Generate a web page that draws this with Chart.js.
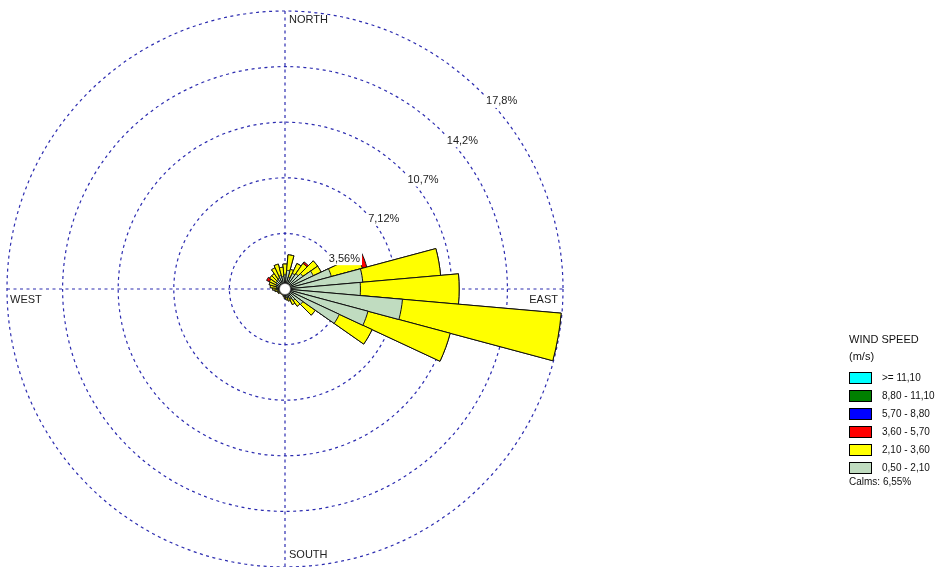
<!DOCTYPE html>
<html>
<head>
<meta charset="utf-8">
<script src="https://cdn.jsdelivr.net/npm/chart.js@4.4.1/dist/chart.umd.min.js"></script>
<style>
  html, body { margin: 0; padding: 0; background: #fff; overflow: hidden; }
  #c { position: absolute; left: 0; top: 0; }
  .lg { position: absolute; font-family: "Liberation Sans", Arial, sans-serif; color: #111; white-space: nowrap; line-height: 1; }
  .box { position: absolute; width: 21px; height: 10px; border: 1px solid #000; }
</style>
</head>
<body>
<canvas id="c" width="939" height="567"></canvas>
<div id="legend"></div>
<script>
// ---- data ----
const directions = ['0','10','20','30','40','50','60','70','80','90','100','110',
  '120','130','140','150','160','170','180','190','200','210','220','230',
  '240','250','260','270','280','290','300','310','320','330','340','350'];

const speedClasses = ['0,50 - 2,10', '2,10 - 3,60', '3,60 - 5,70', '5,70 - 8,80', '8,80 - 11,10', '>= 11,10'];
const classColors = ['#c0dcc0', '#ffff00', '#ff0000', '#0000ff', '#008000', '#00ffff'];

// frequency (%) per direction for each wind-speed class
const speed050_210 = [0.90, 1.20, 0.80, 1.10, 1.20, 1.40, 2.00, 3.07, 5.00, 4.83, 7.55, 5.50,
  3.84, 1.40, 0.90, 0.70, 0.60, 0.55, 0.50, 0.40, 0.35, 0.35, 0.30, 0.35,
  0.40, 0.40, 0.45, 0.50, 0.55, 0.60, 0.65, 0.70, 0.75, 0.80, 0.90, 0.80];
const speed210_360 = [0.70, 1.00, 0.50, 0.70, 0.80, 1.15, 0.55, 2.05, 5.00, 6.32, 10.20, 5.45,
  2.31, 0.97, 0.45, 0.40, 0.20, 0.15, 0.10, 0.08, 0.05, 0.05, 0.05, 0.05,
  0.10, 0.10, 0.20, 0.30, 0.40, 0.45, 0.45, 0.50, 0.45, 0.70, 0.75, 0.60];
const speed360_570 = [0, 0, 0, 0, 0.12, 0, 0, 0.30, 0, 0, 0, 0,
  0, 0, 0, 0, 0, 0, 0, 0, 0, 0, 0, 0,
  0, 0, 0, 0, 0, 0, 0.20, 0, 0, 0, 0, 0];
const speed570_880 = [0, 0, 0, 0, 0, 0, 0, 0, 0, 0, 0, 0,
  0, 0, 0, 0, 0, 0, 0, 0, 0, 0, 0, 0,
  0, 0, 0, 0, 0, 0, 0, 0, 0, 0, 0, 0];
const speed880_1110 = [0, 0, 0, 0, 0, 0, 0, 0, 0, 0, 0, 0,
  0, 0, 0, 0, 0, 0, 0, 0, 0, 0, 0, 0,
  0, 0, 0, 0, 0, 0, 0, 0, 0, 0, 0, 0];
const speed1110 = [0, 0, 0, 0, 0, 0, 0, 0, 0, 0, 0, 0,
  0, 0, 0, 0, 0, 0, 0, 0, 0, 0, 0, 0,
  0, 0, 0, 0, 0, 0, 0, 0, 0, 0, 0, 0];

const ringValues = [3.56, 7.12, 10.68, 14.24, 17.8];
const ringLabels = ['3,56%', '7,12%', '10,7%', '14,2%', '17,8%'];
const compassLabels = ['NORTH', 'EAST', 'SOUTH', 'WEST'];
const legendTitle = ['WIND SPEED', '(m/s)'];
const calmsText = 'Calms: 6,55%';

// ---- build stacked (cumulative) datasets ----
const series = [speed050_210, speed210_360, speed360_570, speed570_880, speed880_1110, speed1110];
let cum = directions.map(() => 0);
const datasets = [];
series.forEach((s, k) => {
  cum = cum.map((c, i) => c + s[i]);
  if (s.some(v => v > 0)) {
    datasets.push({
      label: speedClasses[k],
      data: cum.slice(),
      backgroundColor: classColors[k],
      borderColor: '#111',
      borderWidth: 1
    });
  }
});

const FONT = '"Liberation Sans", Arial, sans-serif';
const GRID = '#2c2cb0';

const rosePlugin = {
  id: 'rose',
  beforeDatasetsDraw(chart) {
    const s = chart.scales.r, ctx = chart.ctx;
    const R = s.getDistanceFromCenterForValue(ringValues[ringValues.length - 1]);
    const x = s.xCenter, y = s.yCenter;
    ctx.save();
    ctx.strokeStyle = GRID; ctx.lineWidth = 1.2; ctx.setLineDash([3, 3.5]);
    ctx.beginPath();
    ctx.moveTo(x - R, y); ctx.lineTo(x + R, y);
    ctx.moveTo(x, y - R); ctx.lineTo(x, y + R);
    ctx.stroke();
    ctx.restore();
  },
  afterDatasetsDraw(chart) {
    const s = chart.scales.r, ctx = chart.ctx;
    const xc = s.xCenter, yc = s.yCenter;
    const R = s.getDistanceFromCenterForValue(ringValues[ringValues.length - 1]);
    ctx.save();
    // calm circle
    ctx.beginPath();
    ctx.arc(xc, yc, 5.5, 0, Math.PI * 2);
    ctx.fillStyle = '#fff'; ctx.fill();
    ctx.lineWidth = 0.6; ctx.strokeStyle = '#555'; ctx.stroke();
    // ring labels at 45 degrees, on a white backdrop
    ctx.font = '11px ' + FONT;
    ctx.textBaseline = 'middle'; ctx.textAlign = 'left';
    ringValues.forEach((v, i) => {
      const r = s.getDistanceFromCenterForValue(v);
      const px = xc + r * Math.SQRT1_2 + 4.5;
      const py = yc - r * Math.SQRT1_2 + 9;
      const w = ctx.measureText(ringLabels[i]).width;
      ctx.fillStyle = '#fff';
      ctx.fillRect(px - 1, py - 6.5, w + 3, 13);
      ctx.fillStyle = '#222';
      ctx.fillText(ringLabels[i], px, py);
    });
    // compass labels
    ctx.fillStyle = '#222';
    ctx.textAlign = 'left';
    ctx.fillText(compassLabels[0], xc + 4, yc - R + 9);
    ctx.textAlign = 'right';
    ctx.fillText(compassLabels[1], xc + R - 5, yc + 11);
    ctx.textAlign = 'left';
    ctx.fillText(compassLabels[2], xc + 4, yc + R - 12);
    ctx.fillText(compassLabels[3], xc - R + 3, yc + 11);
    ctx.restore();
  }
};

new Chart(document.getElementById('c'), {
  type: 'polarArea',
  data: { labels: directions, datasets },
  options: {
    responsive: false,
    animation: false,
    events: [],
    layout: { padding: { left: 7, top: 11, right: 376, bottom: 0 } },
    plugins: { legend: { display: false }, tooltip: { enabled: false } },
    elements: { arc: { borderWidth: 1, borderColor: '#111' } },
    scales: {
      r: {
        min: 0,
        max: ringValues[ringValues.length - 1],
        startAngle: -5,
        ticks: { display: false, stepSize: ringValues[0] },
        afterBuildTicks: (sc) => { sc.ticks = [0, ...ringValues].map(v => ({ value: v })); },
        grid: { circular: true, color: GRID, lineWidth: 1.2 },
        border: { dash: [3, 3.5] },
        angleLines: { display: false },
        pointLabels: { display: false }
      }
    }
  },
  plugins: [rosePlugin]
});

// ---- legend (HTML text) ----
const lg = document.getElementById('legend');
function addText(txt, left, top, size) {
  const d = document.createElement('div');
  d.className = 'lg';
  d.style.left = left + 'px'; d.style.top = top + 'px'; d.style.fontSize = size + 'px';
  d.textContent = txt;
  lg.appendChild(d);
}
addText(legendTitle[0], 849, 334, 11);
addText(legendTitle[1], 849, 351, 11);
for (let k = speedClasses.length - 1, row = 0; k >= 0; k--, row++) {
  const top = 372 + row * 17.9;
  const b = document.createElement('div');
  b.className = 'box';
  b.style.left = '849px'; b.style.top = top + 'px';
  b.style.background = classColors[k];
  lg.appendChild(b);
  addText(speedClasses[k], 882, top + 1, 10);
}
addText(calmsText, 849, 477, 10);
</script>
</body>
</html>
